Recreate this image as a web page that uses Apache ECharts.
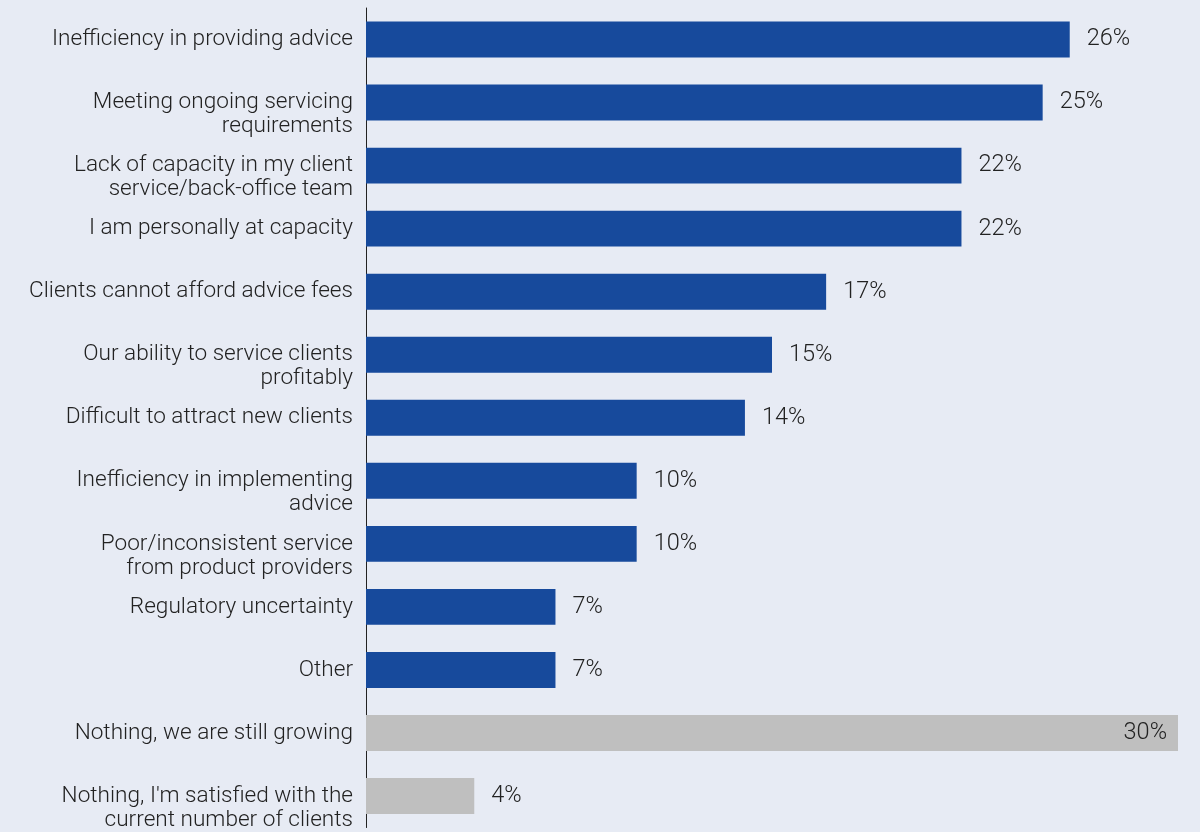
<!DOCTYPE html>
<html>
<head>
<meta charset="utf-8">
<script src="https://cdn.jsdelivr.net/npm/echarts@6/dist/echarts.min.js"></script>
<style>
  html, body { margin: 0; padding: 0; background: #e7ebf4; }
  #chart { width: 1200px; height: 832px; }
</style>
</head>
<body>
<div id="chart"></div>
<script>
// Reasons limiting the growth of the client base (% of respondents)
const categories = [
  'Inefficiency in providing advice',
  'Meeting ongoing servicing\nrequirements',
  'Lack of capacity in my client\nservice/back-office team',
  'I am personally at capacity',
  'Clients cannot afford advice fees',
  'Our ability to service clients\nprofitably',
  'Difficult to attract new clients',
  'Inefficiency in implementing\nadvice',
  'Poor/inconsistent service\nfrom product providers',
  'Regulatory uncertainty',
  'Other',
  'Nothing, we are still growing',
  "Nothing, I'm satisfied with the\ncurrent number of clients"
];
const values = [26, 25, 22, 22, 17, 15, 14, 10, 10, 7, 7, 30, 4];
// "Nothing" answers are shown in grey
const isNeutral = [false, false, false, false, false, false, false, false, false, false, false, true, true];

const BLUE = '#174a9c';
const GREY = '#bfbfbf';
const TEXT = '#222222';
const FONT = 'Roboto';

const seriesData = values.map((v, i) => {
  const item = { value: v, itemStyle: { color: isNeutral[i] ? GREY : BLUE } };
  if (v === 30) {
    item.label = { position: 'insideRight', distance: 11 };
  }
  return item;
});

const chart = echarts.init(document.getElementById('chart'));
chart.setOption({
  backgroundColor: '#e7ebf4',
  animation: false,
  grid: { left: 366, right: 22, top: 8, bottom: 4, containLabel: false },
  xAxis: {
    type: 'value',
    min: 0,
    max: 30,
    show: false
  },
  yAxis: {
    type: 'category',
    inverse: true,
    data: categories,
    axisLine: { show: true, lineStyle: { color: '#222', width: 1 } },
    axisTick: { show: false },
    axisLabel: {
      margin: 13,
      color: TEXT,
      fontFamily: FONT,
      fontWeight: 300,
      fontSize: 22.6,
      lineHeight: 24,
      align: 'right',
      // first line sits level with the bar, wrapped text hangs below it
      formatter: s => (s.indexOf('\n') >= 0 ? '\n' + s : s)
    }
  },
  series: [{
    type: 'bar',
    data: seriesData,
    barCategoryGap: '43%',
    label: {
      show: true,
      position: 'right',
      distance: 17,
      color: TEXT,
      fontFamily: FONT,
      fontWeight: 300,
      fontSize: 23.5,
      formatter: p => p.value + '%'
    }
  }]
});
</script>
</body>
</html>
